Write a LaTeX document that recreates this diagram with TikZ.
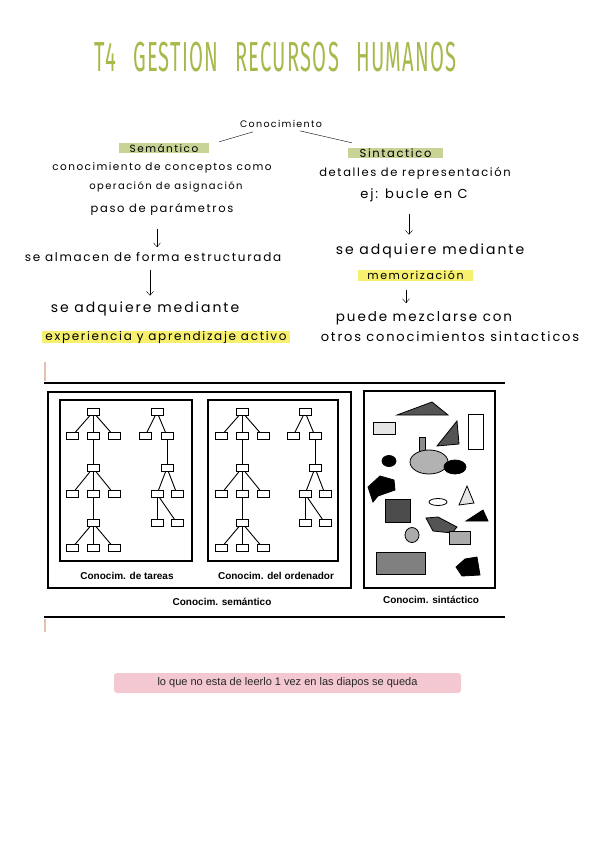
\documentclass[tikz,border=0pt]{standalone}
\usepackage{fontspec}
\usepackage{graphicx}
\usetikzlibrary{arrows.meta}
\setmainfont{Liberation Sans}
\newfontfamily\handfont[LetterSpace=14]{Poppins}
\newfontfamily\titlefont[LetterSpace=6]{Fira Sans}
\definecolor{titlegreen}{RGB}{168,184,74}
\definecolor{hlgreen}{RGB}{200,212,150}
\definecolor{hlyellow}{RGB}{246,240,110}
\definecolor{notepink}{RGB}{244,200,208}
\definecolor{edgepink}{RGB}{232,192,176}
\tikzset{
  hand/.style={font=\handfont\fontsize{#1}{#1}\selectfont, inner sep=1pt},
  hand/.default=9.5,
  arr/.style={-{Straight Barb[length=4pt,width=7pt]}, thin},
  leaf/.style={draw, minimum width=12pt, minimum height=7pt, inner sep=0pt, line width=0.9pt},
  twig/.style={line width=0.9pt},
  frame/.style={line width=1.5pt},
  figlabel/.style={font=\bfseries\fontsize{10}{12}\selectfont, inner sep=1pt},
  blob/.style={draw, line width=0.8pt}
}
\begin{document}
\begin{tikzpicture}[x=1pt,y=-1pt]
\useasboundingbox[fill=white] (0,0) rectangle (600,848);

% titulo
\node[text=titlegreen] (title) at (275.5,57.5)
  {\scalebox{0.48}[1]{\titlefont\fontsize{42}{42}\selectfont T4\hspace{0.85em}GESTION\hspace{0.85em}RECURSOS\hspace{0.85em}HUMANOS}};

% mapa conceptual
\node[hand=9.5] (conoc) at (281,124) {Conocimiento};
\node[hand=10.5, fill=hlgreen, minimum width=90pt, minimum height=10pt, inner sep=0pt] (sem) at (164,148) {Semántico};
\node[hand=11.5, fill=hlgreen, minimum width=95pt, minimum height=10pt, inner sep=0pt] (sint) at (395.5,153) {Sintactico};
\draw[thin] ([shift={(-28,3)}]conoc.south) -- ([shift={(10,-1)}]sem.north east);
\draw[thin] ([shift={(19,2)}]conoc.south) -- ([shift={(4,-5)}]sint.north west);

% rama semantica
\node[hand=10.5] (semA) at (162,168) {conocimiento de conceptos como};
\node[hand=10] (semB) at (166,187) {operación de asignación};
\node[hand=11.5] (semC) at (162,209) {paso de parámetros};
\node[hand=12] (almacen) at (153,257) {se almacen de forma estructurada};
\node[hand=14] (adqL) at (145,309) {se adquiere mediante};
\node[hand=12, fill=hlyellow, minimum width=248pt, minimum height=12pt, inner sep=0pt] (expL) at (166,337) {experiencia y aprendizaje activo};
\draw[arr] ([shift={(-5,13)}]semC.south) -- ([shift={(4,-4)}]almacen.north);
\draw[arr] ([shift={(-3,7)}]almacen.south) -- ([shift={(5,-5)}]adqL.north);

% rama sintactica
\node[hand=11.5] (sintA) at (415,173) {detalles de representación};
\node[hand=13] (sintB) at (414,195) {ej: bucle en C};
\node[hand=14] (adqR) at (430,251) {se adquiere mediante};
\node[hand=11, fill=hlyellow, minimum width=115pt, minimum height=11pt, inner sep=0pt] (memo) at (415.5,275.5) {memorización};
\node[hand=13.5] (mezcla) at (424,318) {puede mezclarse con};
\node[hand=13] (otros) at (450,337) {otros conocimientos sintacticos};
\draw[arr] ([shift={(-5,11)}]sintB.south) -- ([shift={(-21,-8)}]adqR.north);
\draw[arr] ([shift={(-9.5,9)}]memo.south) -- ([shift={(-18,-7)}]mezcla.north);

% figura
\draw[edgepink, line width=1.5pt] (45,362) -- (45,381);
\draw[edgepink, line width=1.5pt] (45,619) -- (45,632);
\draw[line width=2pt] (44,383) -- (505,383);
\draw[line width=2pt] (44,617) -- (505,617);
\draw[frame] (48,392) rectangle (351,588);
\draw[frame] (364,391) rectangle (495,588);
\draw[frame] (60,400) rectangle (192,561);
\draw[frame] (208,400) rectangle (338,561);

% arboles de tres niveles
\foreach \cx/\tg in {93/a,242/b}{
  \node[leaf] (\tg-0) at (\cx,412) {};
  \node[leaf] (\tg-m1) at (\cx,468) {};
  \node[leaf] (\tg-m2) at (\cx,523) {};
  \foreach \dx/\k in {-21/l,0/c,21/r}{
    \node[leaf] (\tg-1\k) at (\cx+\dx,436) {};
    \node[leaf] (\tg-2\k) at (\cx+\dx,494) {};
    \node[leaf] (\tg-3\k) at (\cx+\dx,548) {};
    \draw[twig] (\tg-0) -- (\tg-1\k);
    \draw[twig] (\tg-m1) -- (\tg-2\k);
    \draw[twig] (\tg-m2) -- (\tg-3\k);
  }
  \draw[twig] (\tg-1c) -- (\tg-m1);
  \draw[twig] (\tg-2c) -- (\tg-m2);
}
% arboles binarios
\foreach \cx/\tg in {157/c,305/d}{
  \node[leaf] (\tg-0) at (\cx,412) {};
  \node[leaf] (\tg-1l) at (\cx-12,436) {};
  \node[leaf] (\tg-1r) at (\cx+10,436) {};
  \node[leaf] (\tg-m1) at (\cx+10,468) {};
  \node[leaf] (\tg-2l) at (\cx,494) {};
  \node[leaf] (\tg-2r) at (\cx+20,494) {};
  \node[leaf] (\tg-3l) at (\cx,523) {};
  \node[leaf] (\tg-3r) at (\cx+20,523) {};
  \draw[twig] (\tg-0) -- (\tg-1l);
  \draw[twig] (\tg-0) -- (\tg-1r);
  \draw[twig] (\tg-1r) -- (\tg-m1);
  \draw[twig] (\tg-m1) -- (\tg-2l);
  \draw[twig] (\tg-m1) -- (\tg-2r);
  \draw[twig] (\tg-2l) -- (\tg-3l);
  \draw[twig] (\tg-2l) -- (\tg-3r);
}

% formas sueltas
\draw[blob, fill=black!67] (397,415) -- (432,402) -- (448,415) -- cycle;
\draw[blob, fill=black!10] (373,422) rectangle (395,434);
\draw[blob, fill=white] (468,414) rectangle (483,449);
\draw[blob, fill=black!67] (437,446) -- (457,421) -- (459,444) -- cycle;
\draw[blob, fill=black!45] (419,437) rectangle (425,453);
\draw[blob, fill=black!30] (429,462) ellipse [x radius=19, y radius=12];
\draw[blob, fill=black] (455,467) ellipse [x radius=11, y radius=7];
\draw[blob, fill=black] (389,461) ellipse [x radius=7, y radius=5.5];
\draw[blob, fill=black] (368,487) -- (380,476) -- (394,480) -- (395,490) -- (378,496) -- (373,502) -- cycle;
\draw[blob, fill=black!70] (385,499) rectangle (410,522);
\draw[blob, fill=white] (438,502) ellipse [x radius=9, y radius=3.5];
\draw[blob, fill=black!10] (459,505) -- (467,486) -- (474,503) -- cycle;
\draw[blob, fill=black!67] (426,518) -- (438,517) -- (457,527) -- (452,533) -- (433,531) -- cycle;
\draw[blob, fill=black] (466,521) -- (483,510) -- (488,521) -- cycle;
\draw[blob, fill=black!33] (412,535) ellipse [x radius=7, y radius=7.5];
\draw[blob, fill=black!33] (449,531) rectangle (470,544);
\draw[blob, fill=black!50] (376,552) rectangle (425,574);
\draw[blob, fill=black] (456,567) -- (465,559) -- (477,557) -- (480,575) -- (462,576) -- cycle;

% rotulos de la figura
\node[figlabel] (tareas) at (127,576) {Conocim. de tareas};
\node[figlabel] (orden) at (276,576) {Conocim. del ordenador};
\node[figlabel] (semfig) at (222,602) {Conocim. semántico};
\node[figlabel] (sintfig) at (431,600) {Conocim. sintáctico};

% nota
\node[fill=notepink, rounded corners=3pt, minimum width=347pt, minimum height=20pt,
      text=black!85, font=\fontsize{11}{13}\selectfont] (note) at (287.5,683)
  {lo que no esta de leerlo 1 vez en las diapos se queda};
\end{tikzpicture}
\end{document}
